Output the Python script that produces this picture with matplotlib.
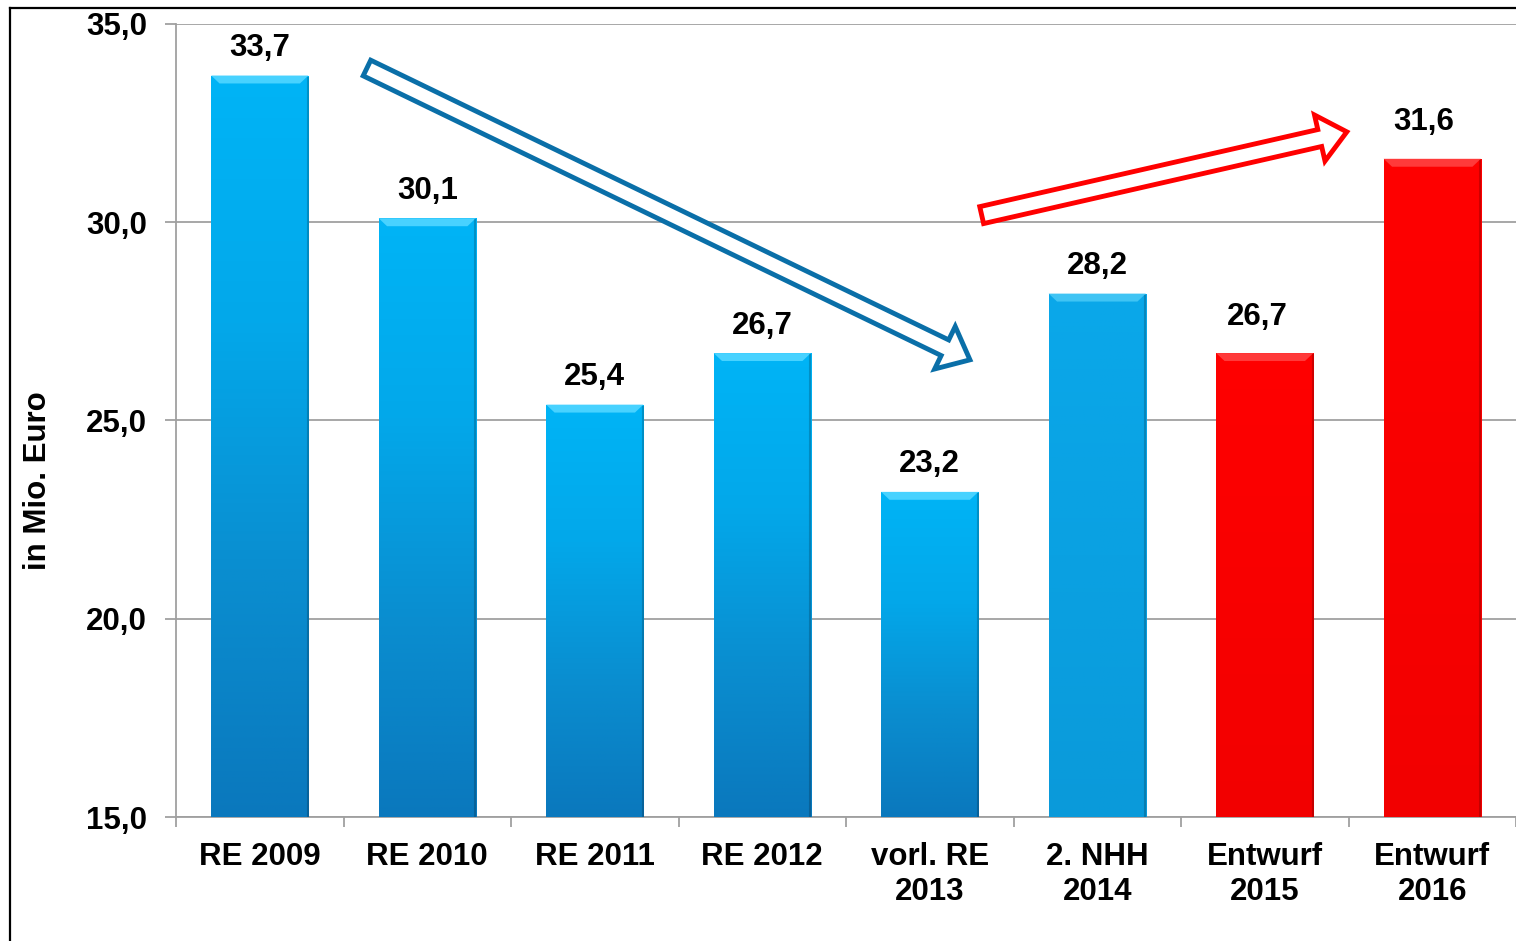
import numpy as np
import matplotlib
matplotlib.use("Agg")
import matplotlib.pyplot as plt
from matplotlib.patches import FancyArrowPatch, ArrowStyle
from matplotlib.lines import Line2D
from matplotlib.colors import LinearSegmentedColormap

# ---- data ----
categories = ["RE 2009", "RE 2010", "RE 2011", "RE 2012", "vorl. RE\n2013",
              "2. NHH\n2014", "Entwurf\n2015", "Entwurf\n2016"]
values = [33.7, 30.1, 25.4, 26.7, 23.2, 28.2, 26.7, 31.6]
value_labels = ["33,7", "30,1", "25,4", "26,7", "23,2", "28,2", "26,7", "31,6"]
bar_styles = ["gradient", "gradient", "gradient", "gradient", "gradient",
              "flat_blue", "red", "red"]
y_ticks = [15.0, 20.0, 25.0, 30.0, 35.0]
y_tick_labels = ["15,0", "20,0", "25,0", "30,0", "35,0"]
y_label = "in Mio. Euro"

# label offsets (points) – styling only
label_dx = [0, 0, 0, 0, 0, 0, -5, -6]
label_dy = [14, 14, 14, 14, 14, 14, 20, 21]

# annotation arrows (data coords: tail, tip)
blue_arrow = ((0.64, 33.89), (4.24, 26.53))
red_arrow = ((4.31, 30.18), (6.49, 32.28))

FONT = "Liberation Sans"
plt.rcParams["font.family"] = [FONT, "DejaVu Sans"]
FS = 22.5

W, H = 1516, 941
fig = plt.figure(figsize=(W / 100, H / 100), dpi=100)
ax = fig.add_axes([176 / W, 1 - 817 / H, (W - 176) / W, (817 - 24) / H])

ymin = 15.0
x = np.arange(len(categories))
bar_w = 0.58
face = {"gradient": "#0a9ad8", "flat_blue": "#0aa3e4", "red": "#ff0000"}
bars = ax.bar(x, np.array(values) - ymin, bottom=ymin, width=bar_w,
              color=[face[s] for s in bar_styles], edgecolor="none", zorder=3)

grad_cmap = LinearSegmentedColormap.from_list(
    "g", ["#0a78bd", "#0a8ed0", "#03a8ea", "#00b4f6"])
flat_cmap = LinearSegmentedColormap.from_list("f", ["#0a9ada", "#0aa8ea"])
red_cmap = LinearSegmentedColormap.from_list("r", ["#f20000", "#ff0000"])
cmaps = {"gradient": grad_cmap, "flat_blue": flat_cmap, "red": red_cmap}
grad = np.linspace(0, 1, 256).reshape(-1, 1)
for b, s, v in zip(bars, bar_styles, values):
    x0 = b.get_x()
    x1 = x0 + b.get_width()
    im = ax.imshow(grad, extent=[x0, x1, ymin, v], origin="lower",
                   aspect="auto", cmap=cmaps[s], zorder=3.1)
    im.set_clip_path(b)
    top_col = {"gradient": "#48d2ff", "flat_blue": "#40c4f4", "red": "#ff3a3a"}[s]
    ax.fill([x0, x1, x1 - 0.05, x0 + 0.05], [v, v, v - 0.2, v - 0.2],
            color=top_col, zorder=3.2, lw=0)
    ax.plot([x1 - 0.004, x1 - 0.004], [ymin, v - 0.05],
            color="#00000030", lw=1.5, zorder=3.3)

for xi, v, lab, dx, dy in zip(x, values, value_labels, label_dx, label_dy):
    ax.annotate(lab, (xi, v), xytext=(dx, dy), textcoords="offset points",
                ha="center", va="baseline", fontsize=FS, fontweight="bold",
                zorder=6,
                bbox=dict(boxstyle="square,pad=0.15", fc="white", ec="none"))

ax.set_xlim(-0.5, len(categories) - 0.5)
ax.set_ylim(ymin, 35.0)
ax.set_yticks(y_ticks)
ax.set_yticklabels(y_tick_labels, fontsize=FS, fontweight="bold")
ax.set_xticks(x)
ax.set_xticklabels(categories, fontsize=FS, fontweight="bold",
                   linespacing=1.2)
ax.tick_params(axis="x", which="major", length=0, pad=18)
ax.set_xticks(np.arange(-0.5, len(categories), 1), minor=True)
ax.tick_params(axis="x", which="minor", length=7, width=1.3, color="#a0a0a0")
ax.tick_params(axis="y", length=8, width=1.3, color="#a0a0a0", pad=13)

ax.grid(axis="y", color="#a0a0a0", lw=1.3, zorder=0)
ax.set_axisbelow(True)
for sp in ["top", "right"]:
    ax.spines[sp].set_visible(False)
for sp in ["left", "bottom"]:
    ax.spines[sp].set_color("#a0a0a0")
    ax.spines[sp].set_linewidth(1.3)

ax.set_ylabel(y_label, fontsize=FS, fontweight="bold")
ax.yaxis.set_label_coords((53 - 176) / (W - 176), (817 - 481) / (817 - 24))

# arrows
def hollow_arrow(tail, tip, color):
    style = ArrowStyle.Simple(head_length=20, head_width=34, tail_width=12.5)
    p = FancyArrowPatch(tail, tip, arrowstyle=style, mutation_scale=1,
                        shrinkA=0, shrinkB=0, fc="white", ec=color, lw=3.5,
                        zorder=5, joinstyle="miter")
    ax.add_patch(p)

hollow_arrow(blue_arrow[0], blue_arrow[1], "#0a6fa8")
hollow_arrow(red_arrow[0], red_arrow[1], "#ff0000")

# frame
fig.add_artist(Line2D([10 / W, 1.0], [1 - 8 / H, 1 - 8 / H],
                      transform=fig.transFigure, color="black", lw=1.6))
fig.add_artist(Line2D([10 / W, 10 / W], [0, 1 - 8 / H],
                      transform=fig.transFigure, color="black", lw=1.6))

fig.savefig("out.png", dpi=100)
